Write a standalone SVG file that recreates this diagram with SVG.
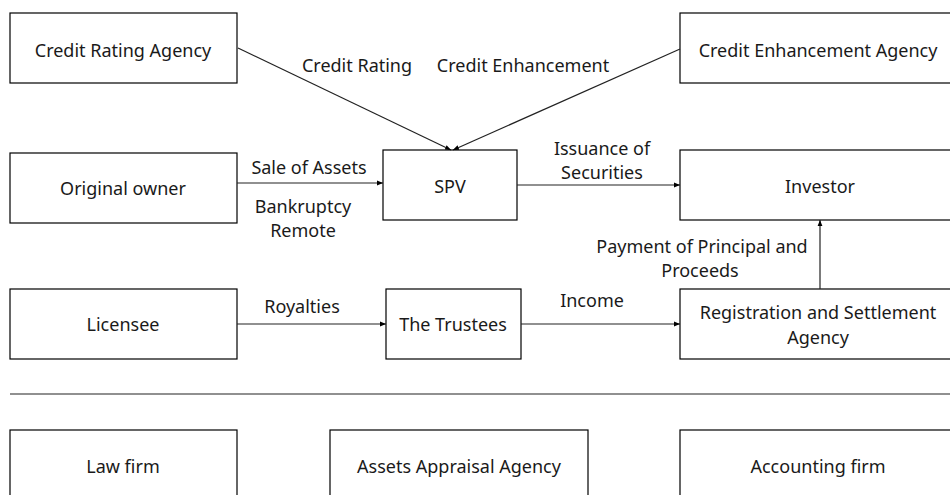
<svg xmlns="http://www.w3.org/2000/svg" width="950" height="495" viewBox="0 0 950 495">
<style>
.box{fill:#fff;stroke:#000;stroke-width:1.2}
.t{font-family:"Noto Sans","Liberation Sans",sans-serif;font-size:18px;fill:#1a1a1a;text-anchor:middle;dominant-baseline:central}
.c{stroke:#222;stroke-width:1.2;fill:none;marker-end:url(#ah)}
</style>
<defs>
<marker id="ah" viewBox="0 0 10 10" refX="10" refY="5" markerWidth="6" markerHeight="6" orient="auto" markerUnits="userSpaceOnUse">
<path d="M0,1 L10,5 L0,9 z" fill="#000"/>
</marker>
</defs>
<rect width="950" height="495" fill="#fff"/>
<g id="credit-rating-agency"><rect class="box" x="10" y="13" width="227" height="70"/><text class="t" x="123" y="50">Credit Rating Agency</text></g>
<g id="credit-enhancement-agency"><rect class="box" x="680" y="13" width="280" height="70"/><text class="t" x="818" y="50">Credit Enhancement Agency</text></g>
<g id="original-owner"><rect class="box" x="10" y="153" width="227" height="70"/><text class="t" x="123" y="188">Original owner</text></g>
<g id="spv"><rect class="box" x="383" y="150" width="134" height="70"/><text class="t" x="450" y="186">SPV</text></g>
<g id="investor"><rect class="box" x="680" y="150" width="280" height="70"/><text class="t" x="820" y="186">Investor</text></g>
<g id="licensee"><rect class="box" x="10" y="289" width="227" height="70"/><text class="t" x="123" y="324">Licensee</text></g>
<g id="trustees"><rect class="box" x="386" y="289" width="135" height="70"/><text class="t" x="453" y="324">The Trustees</text></g>
<g id="registration"><rect class="box" x="680" y="289" width="280" height="70"/><text class="t" x="818" y="312">Registration and Settlement</text><text class="t" x="818" y="337">Agency</text></g>
<line x1="10" y1="394" x2="950" y2="394" stroke="#222" stroke-width="1.2"/>
<g id="law-firm"><rect class="box" x="10" y="430" width="227" height="80"/><text class="t" x="123" y="466">Law firm</text></g>
<g id="appraisal"><rect class="box" x="330" y="430" width="258" height="80"/><text class="t" x="459" y="466">Assets Appraisal Agency</text></g>
<g id="accounting"><rect class="box" x="680" y="430" width="280" height="80"/><text class="t" x="818" y="466">Accounting firm</text></g>
<g id="connectors">
<line class="c" x1="238" y1="48" x2="451" y2="150" stroke="#444"/>
<line class="c" x1="680" y1="49" x2="453" y2="150" stroke="#444"/>
<line class="c" x1="237" y1="183" x2="383" y2="183"/>
<line class="c" x1="517" y1="185" x2="680" y2="185"/>
<line class="c" x1="237" y1="324" x2="386" y2="324"/>
<line class="c" x1="521" y1="324" x2="680" y2="324"/>
<line class="c" x1="820" y1="289" x2="820" y2="220"/>
</g>
<g id="labels">
<text class="t" x="357" y="65">Credit Rating</text>
<text class="t" x="523" y="65">Credit Enhancement</text>
<text class="t" x="309" y="167">Sale of Assets</text>
<text class="t" x="303" y="206">Bankruptcy</text>
<text class="t" x="303" y="230">Remote</text>
<text class="t" x="602" y="148">Issuance of</text>
<text class="t" x="602" y="172">Securities</text>
<text class="t" x="702" y="246">Payment of Principal and</text>
<text class="t" x="700" y="270">Proceeds</text>
<text class="t" x="302" y="306">Royalties</text>
<text class="t" x="592" y="300">Income</text>
</g>
</svg>
